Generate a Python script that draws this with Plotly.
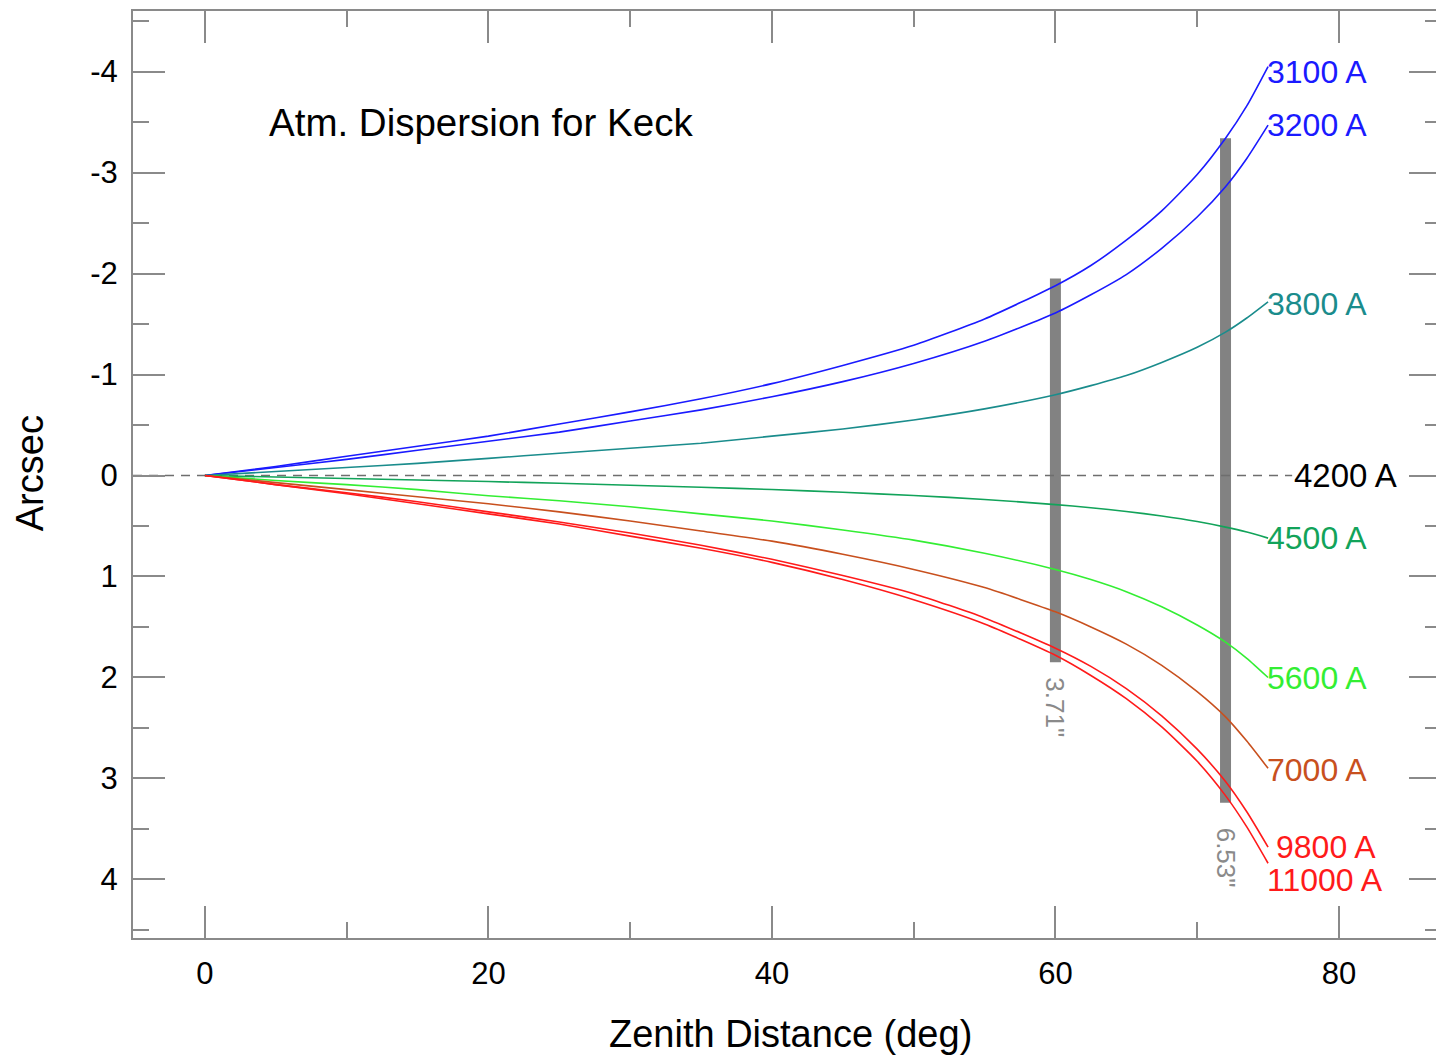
import plotly.graph_objects as go

# Zenith distance samples (deg)
zenith = [0, 5, 10, 15, 20, 25, 30, 35, 40, 45, 50, 55, 60, 62.5, 65, 67.5, 70, 72, 73.5, 75]

# Dispersion relative to 4200 A (arcsec)
disp_3100 = [0, -0.09, -0.19, -0.29, -0.39, -0.51, -0.63, -0.76, -0.91, -1.09, -1.29, -1.55, -1.88, -2.08, -2.33, -2.62, -2.98, -3.34, -3.66, -4.05]
disp_3200 = [0, -0.08, -0.16, -0.25, -0.34, -0.43, -0.54, -0.65, -0.78, -0.93, -1.11, -1.33, -1.61, -1.79, -1.99, -2.25, -2.56, -2.86, -3.14, -3.47]
disp_3800 = [0, -0.04, -0.08, -0.12, -0.17, -0.22, -0.27, -0.32, -0.39, -0.46, -0.55, -0.66, -0.80, -0.89, -0.99, -1.12, -1.27, -1.42, -1.56, -1.72]
disp_4500 = [0, 0.015, 0.03, 0.044, 0.06, 0.077, 0.096, 0.116, 0.139, 0.166, 0.198, 0.237, 0.288, 0.319, 0.356, 0.401, 0.456, 0.511, 0.56, 0.62]
disp_5600 = [0, 0.05, 0.09, 0.14, 0.20, 0.25, 0.31, 0.38, 0.45, 0.54, 0.64, 0.77, 0.93, 1.03, 1.15, 1.30, 1.48, 1.65, 1.81, 2.00]
disp_7000 = [0, 0.07, 0.14, 0.21, 0.28, 0.36, 0.45, 0.55, 0.65, 0.78, 0.93, 1.11, 1.35, 1.50, 1.67, 1.88, 2.14, 2.39, 2.63, 2.90]
disp_9800 = [0, 0.09, 0.17, 0.26, 0.36, 0.46, 0.57, 0.69, 0.83, 0.99, 1.17, 1.41, 1.71, 1.89, 2.11, 2.38, 2.71, 3.03, 3.33, 3.68]
disp_11000 = [0, 0.09, 0.18, 0.28, 0.38, 0.48, 0.60, 0.72, 0.86, 1.03, 1.23, 1.47, 1.78, 1.98, 2.21, 2.49, 2.83, 3.17, 3.48, 3.84]

wavelength_labels = ["3100 A", "3200 A", "3800 A", "4500 A", "5600 A", "7000 A", "9800 A", "11000 A"]
series = [disp_3100, disp_3200, disp_3800, disp_4500, disp_5600, disp_7000, disp_9800, disp_11000]

# Reference wavelength (zero line)
ref_label = "4200 A"
ref_x = [-5.07, 76.7]
ref_y = [0, 0]

# Total dispersion bars
bar_zenith = [60, 72]
bar_top = [-1.95, -3.34]
bar_bottom = [1.85, 3.24]
bar_labels = ['3.71"', '6.53"']

colors = ["#1a1aff", "#1a1aff", "#1a8c8c", "#12a35a", "#33ee33", "#c8501e", "#ff1a1a", "#ff1a1a"]
label_pos = [(75, -4.0), (75, -3.47), (75, -1.70), (75, 0.62), (75, 2.01), (75, 2.92), (75.6, 3.68), (75, 4.01)]

FONT = "Liberation Sans, Arial, Helvetica, sans-serif"

fig = go.Figure()

# grey bars (below the curves)
for z, t, b in zip(bar_zenith, bar_top, bar_bottom):
    fig.add_trace(go.Scatter(x=[z, z], y=[t, b], mode="lines",
                             line=dict(color="#828282", width=11), hoverinfo="skip", showlegend=False))

# dashed reference line
fig.add_trace(go.Scatter(x=ref_x, y=ref_y, mode="lines",
                         line=dict(color="#6e6e6e", width=1.5, dash="9px,7px"), showlegend=False))

for y, c, name in zip(series, colors, wavelength_labels):
    fig.add_trace(go.Scatter(x=zenith, y=y, mode="lines", name=name,
                             line=dict(color=c, width=1.6, shape="spline", smoothing=0.6),
                             showlegend=False))

annotations = []
for (lx, ly), c, name in zip(label_pos, colors, wavelength_labels):
    annotations.append(dict(x=lx, y=ly, xref="x", yref="y", text=name, showarrow=False,
                            xanchor="left", yanchor="middle", font=dict(family=FONT, size=32, color=c),
                            borderpad=0, xshift=-2))
annotations.append(dict(x=76.9, y=0, xref="x", yref="y", text=ref_label, showarrow=False,
                        xanchor="left", yanchor="middle", font=dict(family=FONT, size=33, color="black"),
                        borderpad=0, xshift=-2))
annotations.append(dict(x=4.4, y=-3.5, xref="x", yref="y", text="Atm. Dispersion for Keck", showarrow=False,
                        xanchor="left", yanchor="middle", font=dict(family=FONT, size=38.5, color="black")))
bar_label_y = [2.30, 3.78]
for z, ly, t in zip(bar_zenith, bar_label_y, bar_labels):
    annotations.append(dict(x=z, y=ly, xref="x", yref="y", text=t, showarrow=False, textangle=90,
                            xanchor="center", yanchor="middle", font=dict(family=FONT, size=26, color="#8a8a8a")))
# axis titles
annotations.append(dict(x=0.503, y=-0.104, xref="paper", yref="paper", text="Zenith Distance (deg)",
                        showarrow=False, xanchor="center", yanchor="middle",
                        font=dict(family=FONT, size=38, color="black")))
annotations.append(dict(x=-0.079, y=0.501, xref="paper", yref="paper", text="Arcsec", textangle=-90,
                        showarrow=False, xanchor="center", yanchor="middle",
                        font=dict(family=FONT, size=38, color="black")))

x_ticks = [0, 20, 40, 60, 80]
y_ticks = [-4, -3, -2, -1, 0, 1, 2, 3, 4]

axis_common = dict(showgrid=False, zeroline=False, showline=True, linecolor="#8a8a8a", linewidth=2,
                   ticks="inside", ticklen=32, tickwidth=2, tickcolor="#8a8a8a", mirror="allticks",
                   tickfont=dict(family=FONT, size=31, color="black"))

fig.update_layout(
    width=1436, height=1052,
    margin=dict(l=125, r=1, t=1, b=122),
    paper_bgcolor="white", plot_bgcolor="white",
    xaxis=dict(range=[-5.07, 87.2], tickvals=x_ticks, ticktext=[str(v) for v in x_ticks],
               minor=dict(dtick=10, tick0=0, ticks="inside", ticklen=16, tickwidth=2, tickcolor="#8a8a8a"),
               ticklabelstandoff=7, **axis_common),
    yaxis=dict(range=[4.58, -4.6], tickvals=y_ticks, ticktext=[str(v) for v in y_ticks],
               minor=dict(dtick=0.5, tick0=0, ticks="inside", ticklen=16, tickwidth=2, tickcolor="#8a8a8a"),
               ticklabelstandoff=7, **axis_common),
    annotations=annotations,
    showlegend=False,
)

fig.write_html("out.html")
